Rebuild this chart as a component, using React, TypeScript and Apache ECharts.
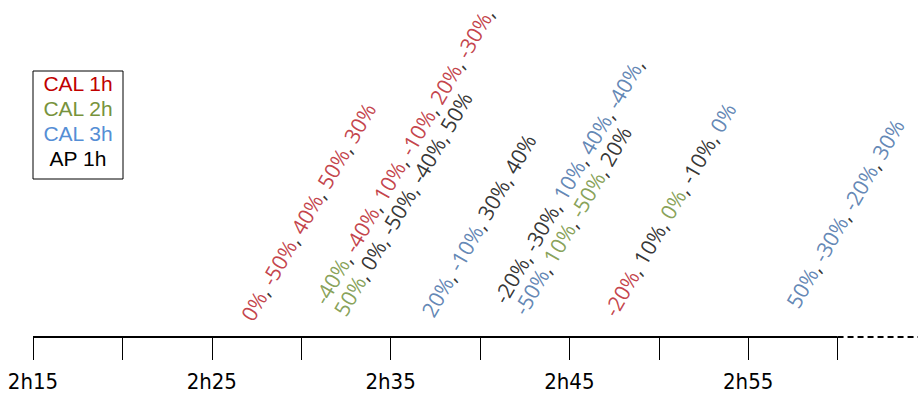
import React, { useEffect, useRef } from "react";
import * as echarts from "echarts";

// ---- data ----
const seriesNames = ["CAL 1h", "CAL 2h", "CAL 3h", "AP 1h"];
const legendColors = ["#C00000", "#77933C", "#558ED5", "#000000"];
const textColors = ["#B5121B", "#6A8A2E", "#3A68A2", "#000000"];

// time in minutes after 2h00
const eventTimes = [27.5, 32.7, 37.6, 42.75, 47.8, 58.0];
const eventHeights = [12, 17, 16, 18, 16.5, 25];
// lines of each event (top line first); null = empty trailing slot
const eventValues: (number | null)[][][] = [
  [[0, -50, 40, 50, 30]],
  [[-40, -40, 10, -10, 20, -30, null], [50, 0, -50, -40, 50]],
  [[20, -10, 30, 40]],
  [[-20, -30, 10, 40, -40, null], [-50, 10, -50, 20]],
  [[-20, 10, 0, -10, 0]],
  [[50, -30, -20, 30]],
];
// series index (0 CAL 1h, 1 CAL 2h, 2 CAL 3h, 3 AP 1h) of each value
const eventSeries: number[][][] = [
  [[0, 0, 0, 0, 0]],
  [[1, 0, 0, 0, 0, 0, 0], [1, 3, 3, 3, 3]],
  [[2, 2, 3, 3]],
  [[3, 3, 2, 2, 2, 2], [2, 1, 1, 3]],
  [[0, 3, 1, 3, 2]],
  [[2, 2, 2, 2]],
];

const tickValues = [15, 20, 25, 30, 35, 40, 45, 50, 55, 60];
const labelValues = [15, 25, 35, 45, 55];
const axisSolid = [[15, 0], [60, 0]];
const axisDashed = [[60, 0], [64.5, 0]];

const LABEL_FONT = '"Open Sans", sans-serif';
const LABEL_SIZE = 21.2;
const LABEL_LINE = 23;

function lineText(vals: (number | null)[], sers: number[]): string {
  return vals
    .map((v, i) => (v === null ? "" : `{s${sers[i]}|${v}%}`))
    .join("{sep|, }");
}

export default function App() {
  const ref = useRef<HTMLDivElement>(null);
  useEffect(() => {
    document.body.style.margin = "0";
    const chart = echarts.init(ref.current!, null, { renderer: "svg" });
    const rich: any = {
      sep: { color: "#000000", fontFamily: LABEL_FONT, fontSize: LABEL_SIZE, lineHeight: LABEL_LINE },
    };
    textColors.forEach((c, i) => {
      rich["s" + i] = { color: c, fontFamily: LABEL_FONT, fontSize: LABEL_SIZE, lineHeight: LABEL_LINE };
    });
    const option: any = {
      animation: false,
      grid: { left: 33, right: 2, top: 0, bottom: 57 },
      xAxis: {
        type: "value",
        min: 15,
        max: 64.5,
        interval: 5,
        splitLine: { show: false },
        axisLine: { show: false },
        axisTick: {
          show: true,
          customValues: tickValues,
          length: 23,
          lineStyle: { color: "#000", width: 1 },
        },
        axisLabel: {
          customValues: labelValues,
          formatter: (v: number) => `2h${v}`,
          margin: 33,
          color: "#000",
          fontSize: 22,
          fontFamily: '"DejaVu Sans Condensed", sans-serif',
        },
      },
      yAxis: { type: "value", min: 0, max: 337, show: false },
      graphic: [
        {
          type: "group",
          left: 32.5,
          top: 70.5,
          children: [
            {
              type: "rect",
              shape: { x: 0, y: 0, width: 90, height: 108 },
              style: { fill: "#fff", stroke: "#000", lineWidth: 1 },
            },
            ...seriesNames.map((n, i) => ({
              type: "text",
              x: 45,
              y: 12 + i * 25,
              style: {
                text: n,
                fill: legendColors[i],
                font: '21px "Liberation Sans", Arial, sans-serif',
                textAlign: "center",
                textVerticalAlign: "middle",
              },
            })),
          ],
        },
      ],
      series: [
        {
          type: "line",
          data: axisSolid,
          symbol: "none",
          clip: false,
          silent: true,
          lineStyle: { color: "#000", width: 2 },
        },
        {
          type: "line",
          data: axisDashed,
          symbol: "none",
          clip: false,
          silent: true,
          lineStyle: { color: "#000", width: 2, type: [6, 4] },
        },
        {
          type: "scatter",
          data: eventTimes.map((t, i) => [t, eventHeights[i]]),
          symbolSize: 1,
          silent: true,
          itemStyle: { color: "rgba(0,0,0,0)" },
          label: {
            show: true,
            position: [0, 0],
            align: "left",
            verticalAlign: "bottom",
            rotate: 60,
            color: "#000",
            textBorderWidth: 0,
            fontFamily: LABEL_FONT,
            fontSize: LABEL_SIZE,
            lineHeight: LABEL_LINE,
            formatter: (p: any) =>
              eventValues[p.dataIndex]
                .map((vals, li) => lineText(vals, eventSeries[p.dataIndex][li]))
                .join("\n"),
            rich,
          },
        },
      ],
    };
    chart.setOption(option);
    return () => chart.dispose();
  }, []);
  return <div ref={ref} style={{ width: 920, height: 394 }} />;
}
